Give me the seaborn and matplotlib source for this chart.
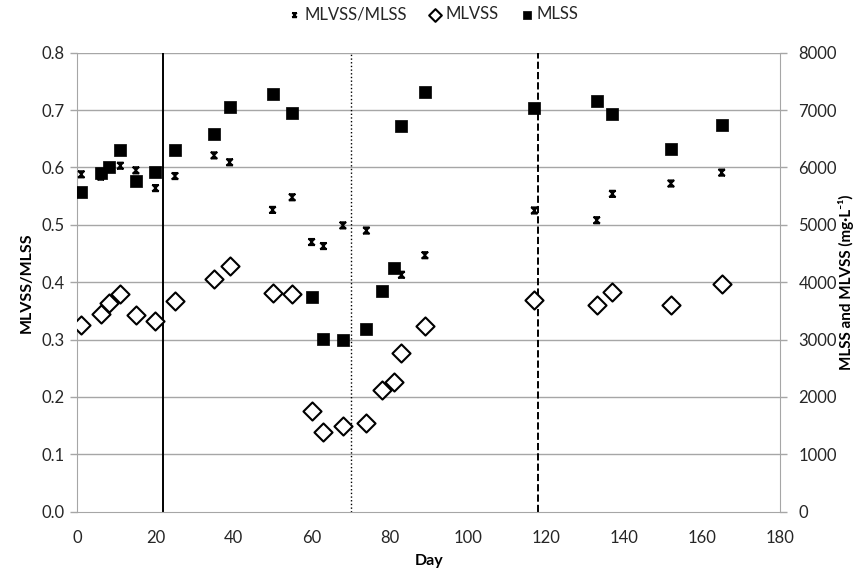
import numpy as np
import pandas as pd
import matplotlib
matplotlib.use("Agg")
import matplotlib.pyplot as plt
from matplotlib.path import Path
import seaborn as sns

# ---- data ----
ratio_days = [1, 6, 8, 11, 15, 20, 25, 35, 39, 50, 55, 60, 63, 68, 74, 83, 89, 117, 133, 137, 152, 165]
ratio_vals = [0.588, 0.584, 0.601, 0.603, 0.595, 0.564, 0.585, 0.621, 0.609, 0.526, 0.548, 0.470, 0.463,
              0.499, 0.490, 0.413, 0.447, 0.525, 0.508, 0.554, 0.572, 0.591]

days = [1, 6, 8, 11, 15, 20, 25, 35, 39, 50, 55, 60, 63, 68, 74, 78, 81, 83, 89, 117, 133, 137, 152, 165]
mlvss = [3250, 3450, 3630, 3790, 3420, 3320, 3680, 4060, 4290, 3820, 3790, 1760, 1395, 1490, 1550,
         2120, 2260, 2760, 3240, 3690, 3610, 3830, 3600, 3970]
mlss = [5580, 5895, 6010, 6310, 5756, 5913, 6310, 6575, 7050, 7282, 6946, 3740, 3003, 2991, 3183,
        3845, 4240, 6720, 7312, 7038, 7155, 6929, 6313, 6732]

phase_days = [22, 70, 118]
phase_styles = ["-", ":", "--"]

x_ticks = [0, 20, 40, 60, 80, 100, 120, 140, 160, 180]
left_ticks = [0.0, 0.1, 0.2, 0.3, 0.4, 0.5, 0.6, 0.7, 0.8]
right_ticks = [0, 1000, 2000, 3000, 4000, 5000, 6000, 7000, 8000]

# ---- style ----
sns.set_style("white")
plt.rcParams["font.family"] = ["Lato", "DejaVu Sans"]
plt.rcParams["axes.unicode_minus"] = False

fig = plt.figure(figsize=(8.65, 5.79), dpi=100)
ax = fig.add_axes([0.0894, 0.1162, 0.9021 - 0.0894, 0.909 - 0.1162])
ax2 = ax.twinx()

# custom Excel-like star marker
star_path = Path(
    [(-1, 1), (1, -1), (-1, -1), (1, 1), (-1, 1), (1, 1), (-1, -1), (1, -1), (0, -1), (0, 1)],
    [Path.MOVETO, Path.LINETO, Path.MOVETO, Path.LINETO, Path.MOVETO, Path.LINETO,
     Path.MOVETO, Path.LINETO, Path.MOVETO, Path.LINETO],
)

grid_c = "#a6a6a6"
txt_c = "#262626"

for y in left_ticks[1:]:
    ax.axhline(y, color=grid_c, lw=1, zorder=0)

df_r = pd.DataFrame({"Day": ratio_days, "ratio": ratio_vals})
df_c = pd.DataFrame({"Day": days, "MLVSS": mlvss, "MLSS": mlss})

sns.scatterplot(data=df_r, x="Day", y="ratio", ax=ax, marker=star_path, s=22,
                facecolor="none", edgecolor="black", linewidth=1.2, color="black",
                label="MLVSS/MLSS", legend=False, zorder=4)
sns.scatterplot(data=df_c, x="Day", y="MLVSS", ax=ax2, marker="D", s=85,
                facecolor="white", edgecolor="black", linewidth=1.5,
                label="MLVSS", legend=False, zorder=3)
sns.scatterplot(data=df_c, x="Day", y="MLSS", ax=ax2, marker="s", s=70,
                color="black", edgecolor="black", linewidth=0.5,
                label="MLSS", legend=False, zorder=3)

for d, ls in zip(phase_days, phase_styles):
    ax.axvline(d, color="black", lw=1.4 if ls != ":" else 1.0, ls=ls, zorder=2)

ax.set_xlim(0, 180)
ax.set_ylim(0, 0.8)
ax2.set_ylim(0, 8000)
ax.set_xticks(x_ticks)
ax.set_yticks(left_ticks)
ax.set_yticklabels([f"{v:.1f}" for v in left_ticks])
ax2.set_yticks(right_ticks)
ax2.set_yticklabels([str(v) for v in right_ticks])

for a in (ax, ax2):
    for s in a.spines.values():
        s.set_color(grid_c)
    a.spines["top"].set_visible(False)
    a.tick_params(colors=grid_c, labelcolor=txt_c, labelsize=12, length=5, width=1, direction="out")
ax2.spines["left"].set_visible(False)
ax2.spines["bottom"].set_visible(False)
ax.spines["right"].set_visible(False)
ax.tick_params(axis="x", pad=8)
ax.tick_params(axis="y", pad=4)
ax2.tick_params(axis="y", pad=8)

ax.set_xlabel("Day", fontsize=11.5, fontweight="bold", color="black", labelpad=6)
ax.set_ylabel("MLVSS/MLSS", fontsize=11.5, fontweight="bold", color="black", labelpad=6)
ax2.set_ylabel("MLSS and MLVSS (mg·L⁻¹)", fontsize=11, fontweight="bold", color="black")
ax2.yaxis.set_label_coords(1.082, 0.5)

ax2.set_zorder(ax.get_zorder() + 1)
ax2.patch.set_visible(False)

h1, l1 = ax.get_legend_handles_labels()
h2, l2 = ax2.get_legend_handles_labels()
fig.legend(h1 + h2, l1 + l2, loc="center", bbox_to_anchor=(0.5, 0.975), ncol=3,
           frameon=False, fontsize=12, handletextpad=0.1, columnspacing=1.2,
           markerscale=0.7, handlelength=1.0)

fig.savefig("out.png", dpi=100)
